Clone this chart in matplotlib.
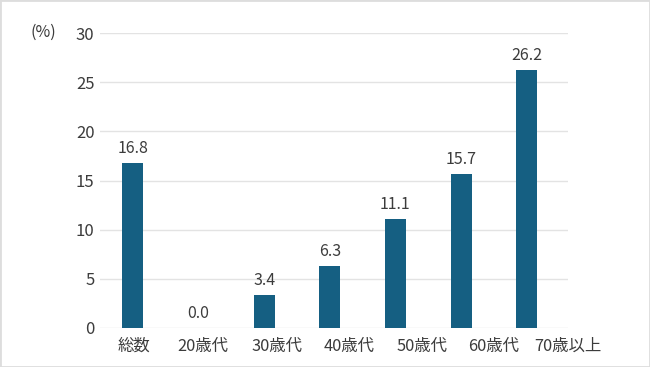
import matplotlib
matplotlib.use('Agg')
import matplotlib.pyplot as plt

plt.rcParams['font.family'] = ['Noto Sans CJK JP', 'DejaVu Sans']

categories = ['総数', '20歳代', '30歳代', '40歳代', '50歳代', '60歳代', '70歳以上']
values = [16.8, 0.0, 3.4, 6.3, 11.1, 15.7, 26.2]
yticks = [0, 5, 10, 15, 20, 25, 30]

# tick label positions (labels drift right of the bars in the original)
label_pos = [0.02, 1.07, 2.19, 3.30, 4.41, 5.50, 6.63]

bar_color = '#155f82'
text_color = '#3c3c3c'

fig = plt.figure(figsize=(6.5, 3.67), dpi=100)
ax = fig.add_axes([100 / 650, 1 - 328 / 367, 468 / 650, 295 / 367])

x = range(len(categories))
ax.bar(x, values, width=0.32, color=bar_color, zorder=3)
for i, v in zip(x, values):
    ax.text(i, v + 0.6, f'{v:.1f}', ha='center', va='bottom',
            fontsize=11.5, color=text_color)

ax.set_xlim(-0.5, 6.5)
ax.set_ylim(0, 30)
ax.set_yticks(yticks)
ax.set_yticklabels([str(t) for t in yticks], fontsize=12, color=text_color)
ax.set_xticks(label_pos)
ax.set_xticklabels(categories, fontsize=11.8, color=text_color)
ax.tick_params(axis='both', length=0)
ax.tick_params(axis='y', pad=4)
ax.tick_params(axis='x', pad=7)
ax.grid(axis='y', color='#e3e3e3', linewidth=1, zorder=0)
for s in ax.spines.values():
    s.set_visible(False)

fig.text(30 / 650, 1 - 32 / 367, '(%)', ha='left', va='center',
         fontsize=11.5, color=text_color)

# light frame round the picture
fig.patches.append(plt.Rectangle((0, 0), 1, 1, transform=fig.transFigure,
                                 fill=False, edgecolor='#dddddd', linewidth=2))

fig.savefig('out.png', dpi=100)
